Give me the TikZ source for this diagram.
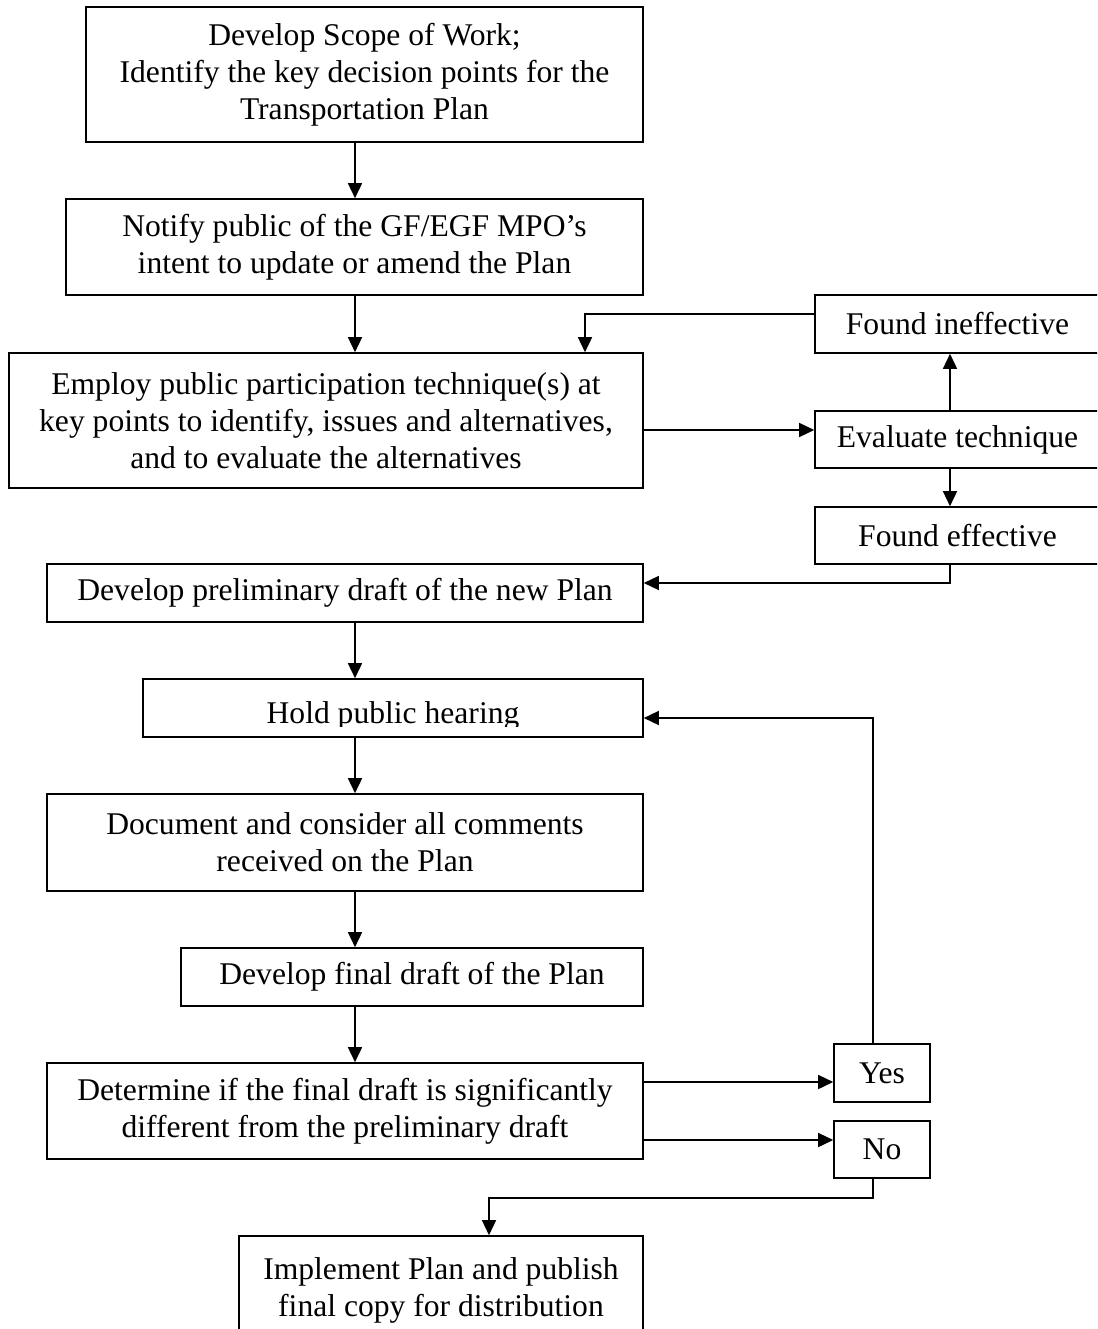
\documentclass[tikz,border=0pt]{standalone}
\usepackage{fontspec}
\setmainfont{Liberation Serif}
\usetikzlibrary{arrows.meta}

\tikzset{
  box/.style={draw=black, line width=1.6pt, rectangle, inner sep=0pt, align=center,
    font=\fontsize{31.6}{37}\selectfont, text=black},
  arr/.style={draw=black, line width=1.5pt, -{Triangle[length=15pt,width=14pt]}},
  link/.style={draw=black, line width=1.5pt}
}

\begin{document}
\begin{tikzpicture}[x=1pt, y=-1pt]
  \useasboundingbox (0,0) rectangle (1097,1329);
  \clip (0,0) rectangle (1097,1329);

  % main column
  \node[box, minimum width=557pt, minimum height=135pt] (scope) at (364.5,74.5)
    {Develop Scope of Work;\\Identify the key decision points for the\\Transportation Plan};
  \node[box, minimum width=577pt, minimum height=96pt] (notify) at (354.5,247)
    {Notify public of the GF/EGF MPO’s\\intent to update or amend the Plan};
  \node[box, minimum width=634pt, minimum height=135pt] (employ) at (326,420.5)
    {Employ public participation technique(s) at\\key points to identify, issues and alternatives,\\and to evaluate the alternatives};
  \node[box, minimum width=596pt, minimum height=58pt] (prelim) at (345,593)
    {Develop preliminary draft of the new Plan};
  \node[box, minimum width=500pt, minimum height=58pt] (hearing) at (393,708) {};
  \begin{scope}
    \clip (143,679) rectangle (643,726);
    \node[font=\fontsize{31.6}{37}\selectfont, anchor=base, inner sep=0pt] (hearingtext) at (393,723) {Hold public hearing};
  \end{scope}
  \node[box, minimum width=596pt, minimum height=97pt] (document) at (345,842.5)
    {Document and consider all comments\\received on the Plan};
  \node[box, minimum width=462pt, minimum height=58pt] (final) at (412,977)
    {Develop final draft of the Plan};
  \node[box, minimum width=596pt, minimum height=96pt] (determine) at (345,1111)
    {Determine if the final draft is significantly\\different from the preliminary draft};
  \node[box, minimum width=404pt, minimum height=109pt] (implement) at (441,1290.5)
    {Implement Plan and publish\\final copy for distribution};

  % evaluation loop
  \node[box, minimum width=285pt, minimum height=58pt] (ineff) at (957.5,324) {Found ineffective};
  \node[box, minimum width=285pt, minimum height=57pt] (evaluate) at (957.5,439.5) {Evaluate technique};
  \node[box, minimum width=285pt, minimum height=57pt] (eff) at (957.5,535.5) {Found effective};

  % decision outcomes
  \node[box, minimum width=96pt, minimum height=58pt] (yes) at (882,1073) {Yes};
  \node[box, minimum width=96pt, minimum height=57pt] (no) at (882,1149.5) {No};

  % routing coordinates
  \coordinate (spine) at (355,0);
  \coordinate (evalx) at (950,0);
  \coordinate (loopx) at (873,0);
  \coordinate (backx) at (585,0);
  \coordinate (implx) at (489,0);
  \coordinate (yEval) at (0,430);
  \coordinate (yBack) at (0,314);
  \coordinate (yEff) at (0,583);
  \coordinate (yYes) at (0,1082);
  \coordinate (yNo) at (0,1140);
  \coordinate (yHear) at (0,718);
  \coordinate (yImpl) at (0,1198);
  \coordinate (backcorner) at (585,314);
  \coordinate (effcorner) at (950,583);
  \coordinate (yescorner) at (873,718);
  \coordinate (nocorner) at (873,1198);
  \coordinate (implcorner) at (489,1198);

  % straight-down flow
  \draw[arr] (scope.south -| spine) -- (notify.north -| spine);
  \draw[arr] (notify.south -| spine) -- (employ.north -| spine);
  \draw[arr] (prelim.south -| spine) -- (hearing.north -| spine);
  \draw[arr] (hearing.south -| spine) -- (document.north -| spine);
  \draw[arr] (document.south -| spine) -- (final.north -| spine);
  \draw[arr] (final.south -| spine) -- (determine.north -| spine);

  % technique evaluation
  \draw[arr] (employ.east |- yEval) -- (evaluate.west |- yEval);
  \draw[arr] (evaluate.north -| evalx) -- (ineff.south -| evalx);
  \draw[arr] (evaluate.south -| evalx) -- (eff.north -| evalx);
  \draw[arr] (ineff.west |- yBack) -- (backcorner) -- (employ.north -| backx);
  \draw[arr] (eff.south -| evalx) -- (effcorner) -- (prelim.east |- yEff);

  % significance decision
  \draw[arr] (determine.east |- yYes) -- (yes.west |- yYes);
  \draw[arr] (determine.east |- yNo) -- (no.west |- yNo);
  \draw[arr] (yes.north -| loopx) -- (yescorner) -- (hearing.east |- yHear);
  \draw[arr] (no.south -| loopx) -- (nocorner) -- (implcorner) -- (implement.north -| implx);
\end{tikzpicture}
\end{document}
